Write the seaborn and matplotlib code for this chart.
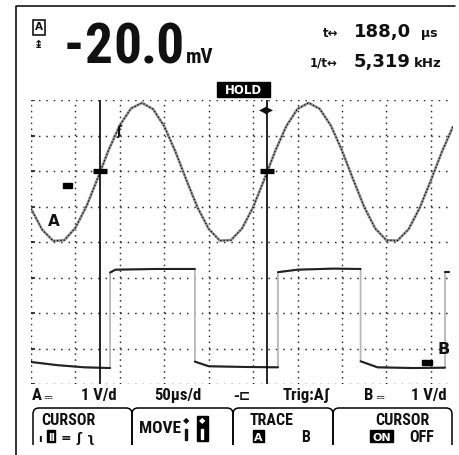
import matplotlib
matplotlib.use("Agg")
import matplotlib.pyplot as plt
import pandas as pd
import seaborn as sns
from matplotlib import font_manager
from matplotlib.font_manager import FontProperties
from matplotlib.ft2font import FT2Font
from matplotlib.patches import Rectangle, PathPatch
from matplotlib.path import Path

# ---------------------------------------------------------------- data
# channel A (sine), time in microseconds, level in screen divisions
sine_t = [0, 12.5, 25, 37.5, 50, 62.5, 75, 87.5, 100, 112.5, 125, 137.5, 150,
          162.5, 175, 187.5, 200, 212.5, 225, 237.5, 250, 262.5, 275, 287.5,
          300, 312.5, 325, 337.5, 350, 362.5, 375, 387.5, 400, 412.5, 425,
          437.5, 450, 462.5, 475]
sine_v = [4.94, 4.35, 4.03, 4.05, 4.40, 5.01, 5.79, 6.60, 7.29, 7.76, 7.92,
          7.74, 7.26, 6.55, 5.74, 4.97, 4.37, 4.04, 4.05, 4.38, 4.98, 5.76,
          6.57, 7.27, 7.75, 7.92, 7.75, 7.28, 6.58, 5.77, 4.99, 4.38, 4.05,
          4.04, 4.36, 4.96, 5.73, 6.54, 7.25]

# channel B (square wave)
square_t = [0, 30, 60, 89, 89, 95, 140, 184.5, 184.5, 200, 240, 278, 278, 300,
            340, 371, 371, 390, 430, 466, 466, 471]
square_v = [0.62, 0.53, 0.47, 0.45, 3.14, 3.22, 3.24, 3.24, 0.63, 0.50, 0.48,
            0.47, 3.15, 3.22, 3.25, 3.24, 0.64, 0.47, 0.45, 0.46, 3.16, 3.16]

cursor_start = 77.6          # µs
cursor_delta = 188.0         # µs between the two cursors
cursor_level = 6.0           # div
reading = "-20.0"
reading_unit = "mV"
volts_per_div_a = "1 V/d"
volts_per_div_b = "1 V/d"
time_per_div = "50µs/d"

# ---------------------------------------------------------------- fonts
sns.set_theme(style="white")
plt.rcParams["lines.scale_dashes"] = False
INK = "#111111"

font_files = sorted({f.fname for f in font_manager.fontManager.ttflist})


def find_narrow_bold():
    prefs = ["liberationsansnarrow-bold", "robotocondensed-bold",
             "dejavusanscondensed-bold", "opensanscondensed-bold",
             "notosans-condensedbold", "condensed-bold", "condensedbold",
             "narrow-bold", "narrowbold"]
    low = [(p.lower().replace(" ", "").replace("_", ""), p) for p in font_files]
    for key in prefs:
        for name, path in low:
            base = name.rsplit("/", 1)[-1]
            if key in base and "italic" not in base and "oblique" not in base:
                return path
    return None


def family_with(ch):
    cp = ord(ch)
    for path in font_files:
        try:
            if cp in FT2Font(path).get_charmap():
                return FontProperties(fname=path).get_name()
        except Exception:
            continue
    return None


NARROW = find_narrow_bold()
DC_FAMILY = family_with("⎓")


def nfont(size, fallback):
    if NARROW:
        return dict(fontproperties=FontProperties(fname=NARROW, size=size),
                    color=INK)
    return dict(family="DejaVu Sans", fontsize=fallback, weight="bold",
                color=INK)


def bfont(size):
    return dict(family="DejaVu Sans", fontsize=size, weight="bold", color=INK)


fig = plt.figure(figsize=(4.6, 4.55), dpi=100)
fig.patch.set_facecolor("white")

# graticule area: 9.5 x 8 divisions
ax = fig.add_axes([31 / 460, 71 / 455, 422 / 460, 284 / 455], zorder=1)
ax.set_xlim(0, 475)
ax.set_ylim(0, 8)
ax.axis("off")
ax.patch.set_alpha(0)

# dotted grid with short marks at the left edge
for y in range(0, 9):
    ax.plot([0, 471], [y, y], color="#2a2a2a", lw=1.05,
            ls=(0, (1.1, 4.23)), solid_capstyle="butt")
    ax.plot([-0.5, 4.5], [y, y], color="#2a2a2a", lw=1.3,
            solid_capstyle="butt")
for x in range(0, 451, 50):
    ax.plot([x, x], [0, 8], color="#2a2a2a", lw=1.05,
            ls=(0, (1.1, 3.16)), solid_capstyle="butt")

# channel A trace
sine = pd.DataFrame({"t": sine_t, "v": sine_v})
sns.lineplot(data=sine, x="t", y="v", ax=ax, color="#949494", linewidth=1.9,
             estimator=None, sort=False, legend=False)
ax.plot(sine["t"], sine["v"], color=INK, lw=0.9, ls=(0, (1.0, 1.4)))

# channel B trace: grey edges, dark levels
square = pd.DataFrame({"t": square_t, "v": square_v})
square["seg"] = (square["t"].diff() == 0).cumsum()
sns.lineplot(data=square, x="t", y="v", ax=ax, color="#b8b8b8", linewidth=1.3,
             estimator=None, sort=False, legend=False)
sns.lineplot(data=square, x="t", y="v", units="seg", ax=ax, color="#222222",
             linewidth=1.5, estimator=None, sort=False, legend=False)
ax.set_xlabel("")
ax.set_ylabel("")

# cursors
cursors = [cursor_start, cursor_start + cursor_delta]
for c in cursors:
    ax.plot([c, c], [0, 8], color="black", lw=1.2)
ax.plot(cursors, [cursor_level] * 2, ls="none", marker="_", ms=9.5, mew=3.8,
        color="black")
ax.text(cursors[1], 7.72, "◀▶", ha="center", va="center", fontsize=7,
        color=INK, family="DejaVu Sans")

# ---------------------------------------------------------------- overlay (pixel coords)
ov = fig.add_axes([0, 0, 1, 1], zorder=3)
ov.set_xlim(0, 460)
ov.set_ylim(455, 0)
ov.axis("off")
ov.patch.set_alpha(0)


def dc_symbol(x, y_base, size=7):
    """Direct-current sign after a channel letter."""
    if DC_FAMILY:
        ov.text(x, y_base, "⎓", ha="left", va="baseline",
                family=[DC_FAMILY, "DejaVu Sans"], fontsize=size, color=INK)
    else:
        ov.plot([x, x + 7], [y_base - 8, y_base - 8], color=INK, lw=1.1)
        ov.plot([x, x + 7], [y_base - 5, y_base - 5], color=INK, lw=1.1,
                ls=(0, (1.2, 1.0)))


# frame
ov.plot([16.5, 16.5, 455], [455, 5.5, 5.5], color="black", lw=1.1)

# header
ov.text(39, 27.5, "A", ha="center", va="center", **bfont(7.5),
        bbox=dict(boxstyle="square,pad=0.2", fc="white", ec="black", lw=1.1))
ov.text(39, 45, "↨", ha="center", va="center", **bfont(8))

if NARROW:
    ov.text(73.5, 63, reading[0], ha="center", va="baseline", **nfont(40, 29))
    ov.text(98.5, 63, reading[1], ha="center", va="baseline", **nfont(40, 29))
    ov.text(127.5, 63, reading[2], ha="center", va="baseline", **nfont(40, 29))
    ov.text(141, 63, reading[3:], ha="left", va="baseline", **nfont(40, 29))
else:
    ov.text(63, 63, reading, ha="left", va="baseline", **nfont(40, 29))
ov.text(186, 63, reading_unit, ha="left", va="baseline", **nfont(15, 10))

ov.text(338, 37, "t↔", ha="right", va="baseline", **bfont(8.5))
ov.text(354, 37, f"{cursor_delta:.1f}".replace(".", ","), ha="left",
        va="baseline", **bfont(13))
ov.text(421, 37, "µs", ha="left", va="baseline", **bfont(9))
ov.text(338, 67, "1/t↔", ha="right", va="baseline", **bfont(8.5))
ov.text(354, 67, f"{1000 / cursor_delta:.3f}".replace(".", ","), ha="left",
        va="baseline", **bfont(13))
ov.text(414, 67, "kHz", ha="left", va="baseline", **bfont(9.5))

# HOLD flag
ov.add_patch(Rectangle((217, 82), 53, 15, color="black"))
ov.text(243.5, 90, "HOLD", ha="center", va="center", family="DejaVu Sans",
        weight="bold", fontsize=8.5, color="white")

# channel markers
ov.text(54, 222, "A", ha="center", va="center", **bfont(11))
ov.text(444, 350, "B", ha="center", va="center", **bfont(11.5))
ov.add_patch(Rectangle((63, 183), 9, 5, color="black"))
ov.add_patch(Rectangle((422, 360), 10, 5, color="black"))
ov.text(119, 131, "ʃ", ha="center", va="center", **bfont(9))

# status line
ov.text(32, 400, "A", ha="left", va="baseline", **nfont(12, 9.5))
dc_symbol(43, 400)
ov.text(117, 400, volts_per_div_a, ha="right", va="baseline", **nfont(12, 9.5))
ov.text(178, 400, time_per_div, ha="center", va="baseline", **nfont(12, 9.5))
ov.text(242, 400, "-⊏", ha="center", va="baseline", **bfont(10))
ov.text(307, 400, "Trig:Aʃ", ha="center", va="baseline", **nfont(12, 9.5))
ov.text(364, 400, "B", ha="left", va="baseline", **nfont(12, 9.5))
dc_symbol(375, 400)
ov.text(447, 400, volts_per_div_b, ha="right", va="baseline", **nfont(12, 9.5))


# soft-key tabs
def tab(x0, x1, top=408, bottom=445, r=6):
    verts = [(x0, bottom), (x0, top + r), (x0, top), (x0 + r, top),
             (x1 - r, top), (x1, top), (x1, top + r), (x1, bottom)]
    codes = [Path.MOVETO, Path.LINETO, Path.CURVE3, Path.CURVE3,
             Path.LINETO, Path.CURVE3, Path.CURVE3, Path.LINETO]
    ov.add_patch(PathPatch(Path(verts, codes), fc="none", ec="black", lw=1.1))


for a, b in [(33, 132), (132, 233), (233, 333), (333, 452)]:
    tab(a, b)

ROW1, ROW2, KEY = 425, 442, 11.5

# key 1
ov.text(68, ROW1, "CURSOR", ha="center", va="baseline", **nfont(KEY, 9))
ov.text(40, ROW2, "ı", ha="center", va="baseline", **bfont(8))
ov.add_patch(Rectangle((47, 430), 8.5, 12, color="black"))
ov.text(51.2, ROW2 - 1, "II", ha="center", va="baseline", family="DejaVu Sans",
        weight="bold", fontsize=7, color="white")
ov.text(66, ROW2, "=", ha="center", va="baseline", **bfont(9))
ov.text(79, ROW2, "ʃ", ha="center", va="baseline", **bfont(9))
ov.text(91, ROW2, "ʅ", ha="center", va="baseline", **bfont(9))

# key 2
ov.text(139, 433, "MOVE", ha="left", va="baseline", **nfont(12.5, 9.5))
ov.text(186, 421, "◆", ha="center", va="center", fontsize=6, color=INK)
ov.add_patch(Rectangle((185.3, 429), 1.5, 11, color=INK))
ov.add_patch(Rectangle((197, 416), 11, 25, color="black"))
ov.text(202.5, 421, "◆", ha="center", va="center", fontsize=6, color="white")
ov.add_patch(Rectangle((201.5, 429), 2, 10, color="white"))

# key 3
ov.text(272, ROW1, "TRACE", ha="center", va="baseline", **nfont(KEY, 9))
ov.add_patch(Rectangle((253, 430), 11, 12, color="black"))
ov.text(258.5, ROW2 - 1, "A", ha="center", va="baseline", family="DejaVu Sans",
        weight="bold", fontsize=8, color="white")
ov.text(306, ROW2, "B", ha="center", va="baseline", **nfont(KEY, 9))

# key 4
ov.text(402, ROW1, "CURSOR", ha="center", va="baseline", **nfont(KEY, 9))
ov.add_patch(Rectangle((370, 430), 23, 12, color="black"))
ov.text(381.5, ROW2 - 1, "ON", ha="center", va="baseline", family="DejaVu Sans",
        weight="bold", fontsize=8, color="white")
ov.text(422, ROW2, "OFF", ha="center", va="baseline", **nfont(KEY, 9))

fig.savefig("out.png", dpi=100, facecolor="white")
